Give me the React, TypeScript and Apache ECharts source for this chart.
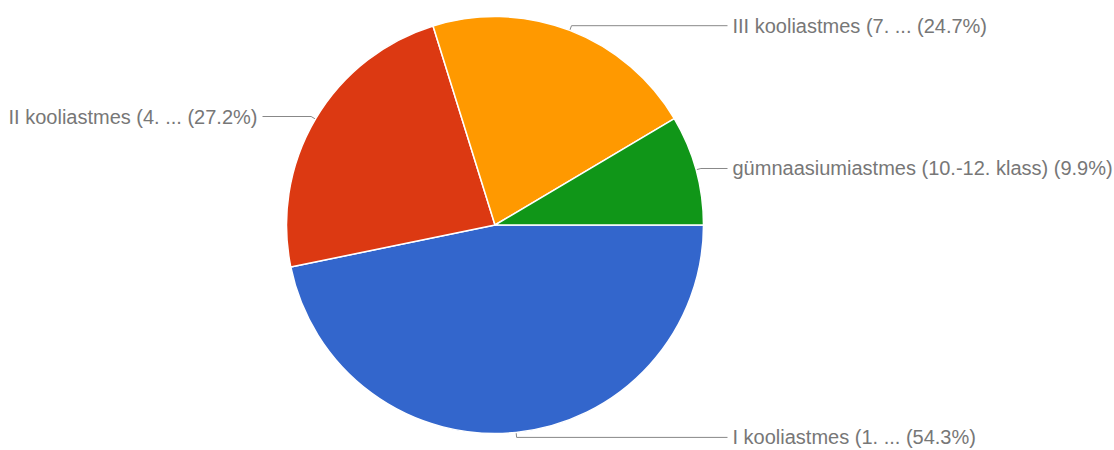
import { useEffect, useRef } from "react";
import * as echarts from "echarts";

const categories = [
  "I kooliastmes (1. ...",
  "II kooliastmes (4. ...",
  "III kooliastmes (7. ...",
  "gümnaasiumiastmes (10.-12. klass)",
];
const percents = [54.3, 27.2, 24.7, 9.9];
const colors = ["#3366cc", "#dc3912", "#ff9900", "#109618"];

const CX = 495;
const CY = 225;
const R = 208.5;
const LEN1 = 5;
const GAP = 24;

export default function App() {
  const ref = useRef<HTMLDivElement>(null);
  useEffect(() => {
    if (!ref.current) return;
    const chart = echarts.init(ref.current, undefined, { renderer: "svg" });
    const total = percents.reduce((a, b) => a + b, 0);
    let cum = 0;
    const data = categories.map((name, i) => {
      const v = percents[i];
      const mid = ((cum + v / 2) / total) * Math.PI * 2;
      cum += v;
      const dx = Math.cos(mid);
      const bendX = CX + (R + LEN1) * dx;
      const len2 =
        dx < 0
          ? Math.max(25, bendX - (CX - R - GAP))
          : Math.max(25, CX + R + GAP - bendX);
      return {
        name,
        value: v,
        itemStyle: { color: colors[i] },
        labelLine: { length: LEN1, length2: len2 },
      };
    });
    chart.setOption({
      animation: false,
      backgroundColor: "#ffffff",
      series: [
        {
          type: "pie",
          center: [CX, CY],
          radius: [0, R],
          startAngle: 0,
          clockwise: true,
          avoidLabelOverlap: false,
          data,
          itemStyle: { borderColor: "#ffffff", borderWidth: 1.5 },
          label: {
            show: true,
            position: "outside",
            alignTo: "none",
            distanceToLabelLine: 5,
            formatter: (p: any) => `${p.name} (${p.value}%)`,
            color: "#777777",
            fontSize: 20,
            fontFamily: "'Liberation Sans', Arial, sans-serif",
          },
          labelLine: {
            show: true,
            length: LEN1,
            length2: 20,
            lineStyle: { color: "#888888", width: 1 },
          },
          emphasis: { disabled: true },
        },
      ],
    });
    return () => chart.dispose();
  }, []);
  return (
    <div
      ref={ref}
      style={{ position: "absolute", left: 0, top: 0, width: 1114, height: 450 }}
    />
  );
}
